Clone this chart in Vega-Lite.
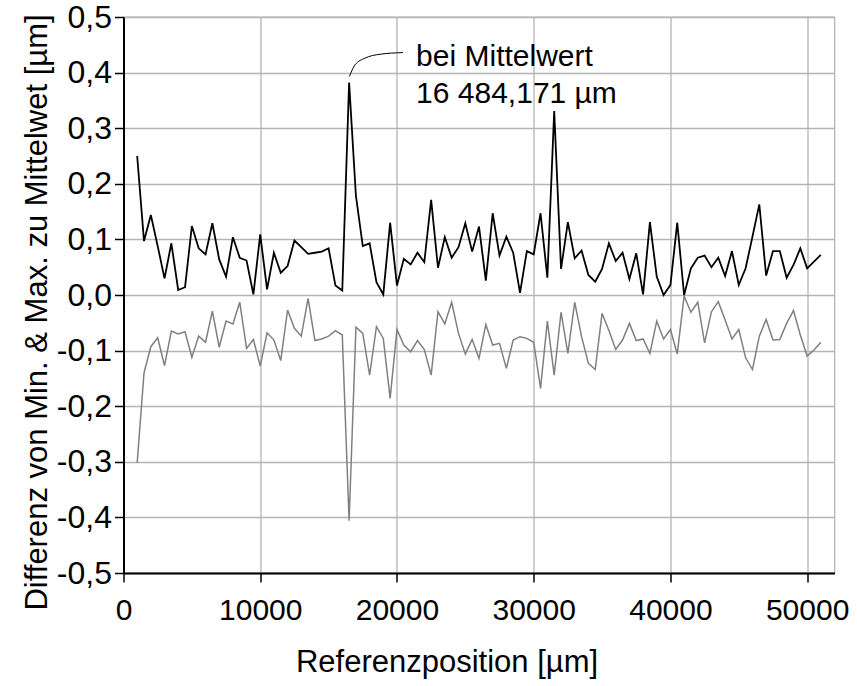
{
  "$schema": "https://vega.github.io/schema/vega-lite/v6.json",
  "width": 711,
  "height": 556,
  "autosize": {"type": "none"},
  "padding": {"left": 123.5, "top": 17, "right": 22.5, "bottom": 113},
  "background": "white",
  "config": {
    "font": "Liberation Sans",
    "view": {"stroke": "#b4b4b4", "strokeWidth": 1.3},
    "axis": {
      "labelFont": "Liberation Sans",
      "titleFont": "Liberation Sans",
      "labelColor": "#000000",
      "titleColor": "#000000",
      "titleFontWeight": "normal",
      "domainColor": "#000000",
      "domainWidth": 2,
      "tickColor": "#000000",
      "tickWidth": 1.5,
      "tickSize": 9,
      "gridColor": "#b4b4b4",
      "gridWidth": 1.3
    }
  },
  "datasets": {
    "profile": [
      {"pos": 1000, "max": 0.250, "min": -0.302},
      {"pos": 1500, "max": 0.097, "min": -0.140},
      {"pos": 2000, "max": 0.144, "min": -0.093},
      {"pos": 2500, "max": 0.088, "min": -0.077},
      {"pos": 3000, "max": 0.030, "min": -0.127},
      {"pos": 3500, "max": 0.093, "min": -0.065},
      {"pos": 4000, "max": 0.009, "min": -0.070},
      {"pos": 4500, "max": 0.014, "min": -0.066},
      {"pos": 5000, "max": 0.124, "min": -0.112},
      {"pos": 5500, "max": 0.084, "min": -0.074},
      {"pos": 6000, "max": 0.073, "min": -0.085},
      {"pos": 6500, "max": 0.129, "min": -0.029},
      {"pos": 7000, "max": 0.064, "min": -0.094},
      {"pos": 7500, "max": 0.033, "min": -0.047},
      {"pos": 8000, "max": 0.104, "min": -0.052},
      {"pos": 8500, "max": 0.067, "min": -0.013},
      {"pos": 9000, "max": 0.062, "min": -0.096},
      {"pos": 9500, "max": 0.001, "min": -0.080},
      {"pos": 10000, "max": 0.109, "min": -0.128},
      {"pos": 10500, "max": 0.010, "min": -0.068},
      {"pos": 11000, "max": 0.076, "min": -0.081},
      {"pos": 11500, "max": 0.040, "min": -0.118},
      {"pos": 12000, "max": 0.052, "min": -0.027},
      {"pos": 12500, "max": 0.098, "min": -0.060},
      {"pos": 13000, "max": 0.086, "min": -0.074},
      {"pos": 13500, "max": 0.074, "min": -0.006},
      {"pos": 14000, "max": 0.076, "min": -0.082},
      {"pos": 14500, "max": 0.078, "min": -0.079},
      {"pos": 15000, "max": 0.084, "min": -0.074},
      {"pos": 15500, "max": 0.017, "min": -0.064},
      {"pos": 16000, "max": 0.008, "min": -0.072},
      {"pos": 16500, "max": 0.382, "min": -0.406},
      {"pos": 17000, "max": 0.178, "min": -0.058},
      {"pos": 17500, "max": 0.088, "min": -0.069},
      {"pos": 18000, "max": 0.093, "min": -0.144},
      {"pos": 18500, "max": 0.023, "min": -0.057},
      {"pos": 19000, "max": 0.001, "min": -0.078},
      {"pos": 19500, "max": 0.130, "min": -0.186},
      {"pos": 20000, "max": 0.017, "min": -0.062},
      {"pos": 20500, "max": 0.065, "min": -0.090},
      {"pos": 21000, "max": 0.055, "min": -0.102},
      {"pos": 21500, "max": 0.076, "min": -0.082},
      {"pos": 22000, "max": 0.059, "min": -0.098},
      {"pos": 22500, "max": 0.171, "min": -0.144},
      {"pos": 23000, "max": 0.049, "min": -0.030},
      {"pos": 23500, "max": 0.104, "min": -0.052},
      {"pos": 24000, "max": 0.067, "min": -0.013},
      {"pos": 24500, "max": 0.086, "min": -0.069},
      {"pos": 25000, "max": 0.129, "min": -0.106},
      {"pos": 25500, "max": 0.078, "min": -0.080},
      {"pos": 26000, "max": 0.123, "min": -0.114},
      {"pos": 26500, "max": 0.026, "min": -0.053},
      {"pos": 27000, "max": 0.147, "min": -0.090},
      {"pos": 27500, "max": 0.071, "min": -0.087},
      {"pos": 28000, "max": 0.105, "min": -0.132},
      {"pos": 28500, "max": 0.076, "min": -0.081},
      {"pos": 29000, "max": 0.004, "min": -0.075},
      {"pos": 29500, "max": 0.079, "min": -0.078},
      {"pos": 30000, "max": 0.073, "min": -0.085},
      {"pos": 30500, "max": 0.147, "min": -0.168},
      {"pos": 31000, "max": 0.031, "min": -0.047},
      {"pos": 31500, "max": 0.331, "min": -0.144},
      {"pos": 32000, "max": 0.047, "min": -0.031},
      {"pos": 32500, "max": 0.131, "min": -0.105},
      {"pos": 33000, "max": 0.066, "min": -0.013},
      {"pos": 33500, "max": 0.080, "min": -0.075},
      {"pos": 34000, "max": 0.036, "min": -0.123},
      {"pos": 34500, "max": 0.024, "min": -0.134},
      {"pos": 35000, "max": 0.047, "min": -0.033},
      {"pos": 35500, "max": 0.093, "min": -0.064},
      {"pos": 36000, "max": 0.061, "min": -0.098},
      {"pos": 36500, "max": 0.076, "min": -0.081},
      {"pos": 37000, "max": 0.029, "min": -0.051},
      {"pos": 37500, "max": 0.075, "min": -0.082},
      {"pos": 38000, "max": 0.001, "min": -0.079},
      {"pos": 38500, "max": 0.131, "min": -0.105},
      {"pos": 39000, "max": 0.033, "min": -0.047},
      {"pos": 39500, "max": 0.000, "min": -0.079},
      {"pos": 40000, "max": 0.018, "min": -0.062},
      {"pos": 40500, "max": 0.130, "min": -0.106},
      {"pos": 41000, "max": 0.000, "min": -0.002},
      {"pos": 41500, "max": 0.048, "min": -0.031},
      {"pos": 42000, "max": 0.067, "min": -0.013},
      {"pos": 42500, "max": 0.071, "min": -0.086},
      {"pos": 43000, "max": 0.050, "min": -0.030},
      {"pos": 43500, "max": 0.067, "min": -0.012},
      {"pos": 44000, "max": 0.034, "min": -0.045},
      {"pos": 44500, "max": 0.079, "min": -0.079},
      {"pos": 45000, "max": 0.018, "min": -0.062},
      {"pos": 45500, "max": 0.048, "min": -0.113},
      {"pos": 46000, "max": 0.105, "min": -0.134},
      {"pos": 46500, "max": 0.163, "min": -0.074},
      {"pos": 47000, "max": 0.035, "min": -0.044},
      {"pos": 47500, "max": 0.079, "min": -0.081},
      {"pos": 48000, "max": 0.079, "min": -0.080},
      {"pos": 48500, "max": 0.031, "min": -0.051},
      {"pos": 49000, "max": 0.054, "min": -0.028},
      {"pos": 49500, "max": 0.084, "min": -0.072},
      {"pos": 50000, "max": 0.048, "min": -0.110},
      {"pos": 50500, "max": 0.060, "min": -0.099},
      {"pos": 51000, "max": 0.072, "min": -0.085}
    ],
    "leader": [
      {"pos": 16518, "val": 0.393},
      {"pos": 16935, "val": 0.414},
      {"pos": 17666, "val": 0.426},
      {"pos": 18764, "val": 0.433},
      {"pos": 20446, "val": 0.436}
    ],
    "note": [
      {"pos": 21400, "val": 0.412, "label": "bei Mittelwert"},
      {"pos": 21400, "val": 0.345, "label": "16 484,171 µm"}
    ]
  },
  "layer": [
    {
      "data": {"name": "profile"},
      "mark": {"type": "line", "color": "#808080", "strokeWidth": 1.5},
      "encoding": {
        "x": {
          "field": "pos",
          "type": "quantitative",
          "scale": {"domain": [0, 52000], "nice": false, "zero": false},
          "axis": {
            "title": "Referenzposition [µm]",
            "values": [0, 10000, 20000, 30000, 40000, 50000],
            "format": "d",
            "labelFontSize": 30,
            "labelPadding": 13,
            "labelFlush": false,
            "titleFontSize": 31,
            "titleBaseline": "alphabetic",
            "titleAnchor": "start",
            "titleAlign": "center",
            "titleX": 323,
            "titleY": 98
          }
        },
        "y": {
          "field": "min",
          "type": "quantitative",
          "scale": {"domain": [-0.5, 0.5], "nice": false},
          "axis": {
            "title": "Differenz von Min. & Max. zu Mittelwet [µm]",
            "values": [-0.5, -0.4, -0.3, -0.2, -0.1, 0, 0.1, 0.2, 0.3, 0.4, 0.5],
            "labelExpr": "(datum.value < -0.0001 ? '-' : '') + replace(format(abs(datum.value), '.1f'), '.', ',')",
            "labelFontSize": 32,
            "labelPadding": 3,
            "labelFlush": false,
            "titleFontSize": 31,
            "titleBaseline": "alphabetic",
            "titleAngle": -90,
            "titleAlign": "center",
            "titleX": -77,
            "titleY": 295
          }
        }
      }
    },
    {
      "data": {"name": "profile"},
      "mark": {"type": "line", "color": "#000000", "strokeWidth": 1.8},
      "encoding": {
        "x": {"field": "pos", "type": "quantitative"},
        "y": {"field": "max", "type": "quantitative"}
      }
    },
    {
      "data": {"name": "leader"},
      "mark": {"type": "line", "color": "#000000", "strokeWidth": 1, "interpolate": "monotone"},
      "encoding": {
        "x": {"field": "pos", "type": "quantitative"},
        "y": {"field": "val", "type": "quantitative"}
      }
    },
    {
      "data": {"name": "note"},
      "mark": {"type": "text", "align": "left", "baseline": "alphabetic", "fontSize": 30, "font": "Liberation Sans", "color": "#000000"},
      "encoding": {
        "x": {"field": "pos", "type": "quantitative"},
        "y": {"field": "val", "type": "quantitative"},
        "text": {"field": "label", "type": "nominal"}
      }
    }
  ]
}
